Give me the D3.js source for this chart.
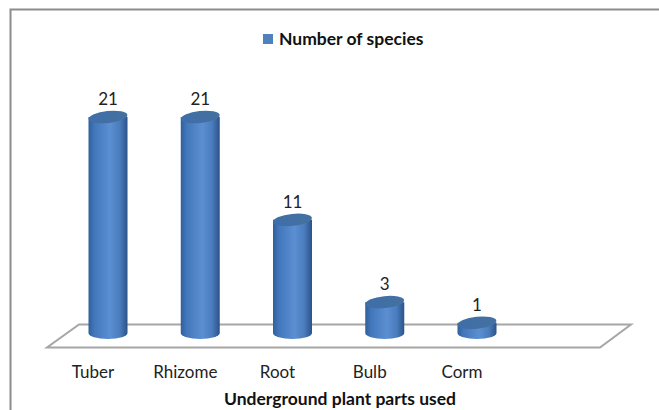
<!DOCTYPE html>
<html><head><meta charset="utf-8">
<script src="https://cdn.jsdelivr.net/npm/d3@7"></script>
<style>body{margin:0;background:#fff}svg{display:block}</style>
</head><body>
<script>
const categories = ["Tuber", "Rhizome", "Root", "Bulb", "Corm"];
const values = [21, 21, 11, 3, 1];
const seriesName = "Number of species";
const axisTitle = "Underground plant parts used";

const W = 659, H = 410;
const svg = d3.select("body").append("svg").attr("width", W).attr("height", H);
const font = "Lato, 'Open Sans', sans-serif";

// outer border (top and left visible)
svg.append("path").attr("d", `M10.5,${H} L10.5,9.5 L${W},9.5`).attr("fill","none").attr("stroke","#8c8c8c").attr("stroke-width",2);

const defs = svg.append("defs");
const g = defs.append("linearGradient").attr("id","cyl").attr("x1","0").attr("x2","1").attr("y1","0").attr("y2","0");
[[0,"#2f5f9c"],[0.15,"#4377bb"],[0.55,"#5b8fd2"],[0.8,"#4a7dbe"],[1,"#2c5288"]].forEach(([o,c])=>g.append("stop").attr("offset",o).attr("stop-color",c));
const gt = defs.append("linearGradient").attr("id","cyltop").attr("x1","0").attr("x2","1").attr("y1","0").attr("y2","0");
[[0,"#3f6ea9"],[1,"#44719f"]].forEach(([o,c])=>gt.append("stop").attr("offset",o).attr("stop-color",c));

// floor
const floor = {fl:47, fr:600, fy:347.5, bl:79, br:631, by:324.5};
svg.append("path").attr("d",`M${floor.fl},${floor.fy} L${floor.fr},${floor.fy} L${floor.br},${floor.by} L${floor.bl},${floor.by} Z`)
  .attr("fill","none").attr("stroke","#a6a6a6").attr("stroke-width",2);

const x = d3.scalePoint().domain(categories).range([108, 477]);
const y = d3.scaleLinear().domain([0, 21]).range([333, 117]);
const rx = 19.5, ry = 6;

const bars = svg.append("g").selectAll("g").data(categories).join("g");
bars.each(function(c, i){
  const sel = d3.select(this);
  const cx = x(c), yt = y(values[i]), yb = y(0);
  sel.append("path")
    .attr("d", `M${cx-rx},${yt} L${cx-rx},${yb} A${rx},${ry} 0 0 0 ${cx+rx},${yb} L${cx+rx},${yt} Z`)
    .attr("fill","url(#cyl)");
  sel.append("ellipse").attr("cx",cx).attr("cy",yt).attr("rx",rx).attr("ry",ry)
    .attr("transform",`rotate(-6 ${cx} ${yt})`)
    .attr("fill","url(#cyltop)");
  sel.append("text").attr("x",cx).attr("y",yt-12).attr("text-anchor","middle")
    .attr("font-family",font).attr("font-size",17).attr("fill","#222").text(values[i]);
  sel.append("text").attr("x",cx - 15).attr("y",378).attr("text-anchor","middle")
    .attr("font-family",font).attr("font-size",17).attr("fill","#222").text(c);
});

// axis title
svg.append("text").attr("x",340).attr("y",405).attr("text-anchor","middle")
  .attr("font-family",font).attr("font-weight","bold").attr("font-size",17.5).attr("fill","#111").text(axisTitle);

// legend
svg.append("rect").attr("x",263).attr("y",34).attr("width",10).attr("height",10).attr("fill","#4f81bd");
svg.append("text").attr("x",279).attr("y",45).attr("font-family",font).attr("font-weight","bold")
  .attr("font-size",17.5).attr("fill","#111").text(seriesName);
</script>
</body></html>
